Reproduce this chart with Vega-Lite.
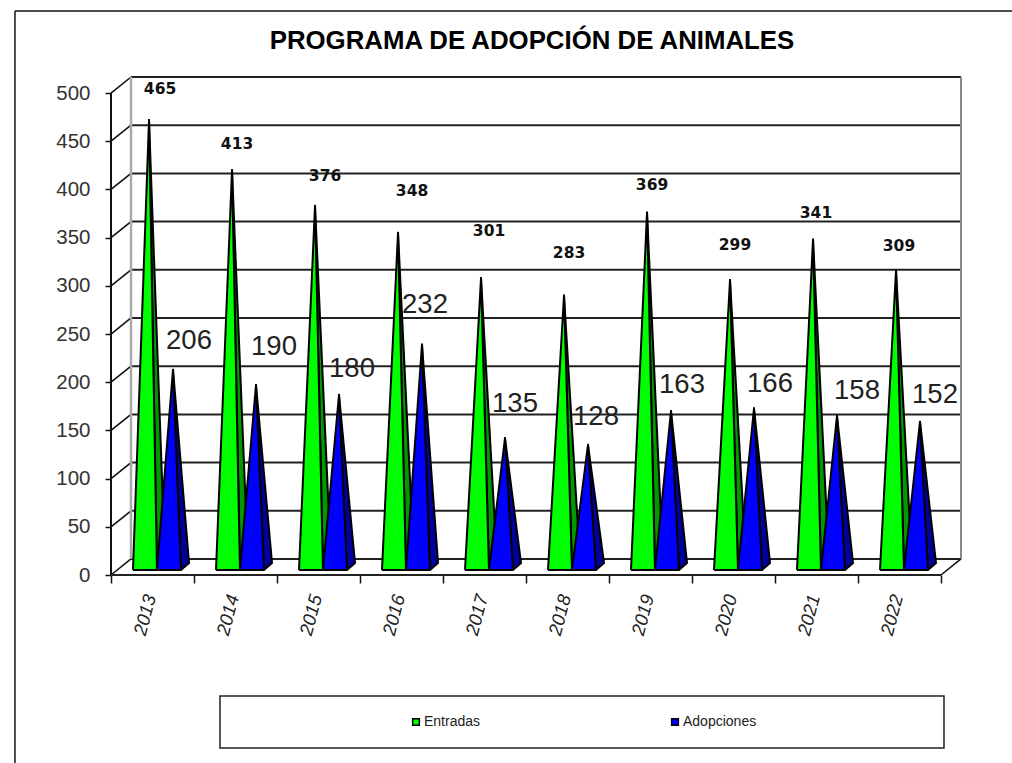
{
"$schema":"https://vega.github.io/schema/vega-lite/v6.json",
"width":850,"height":498,
"autosize":"none",
"padding":{"left":111,"top":77,"right":51,"bottom":188},
"background":"white",
"view":{"stroke":null},
"title":{"text":"PROGRAMA DE ADOPCIÓN DE ANIMALES","font":"Liberation Sans","fontSize":25.8,"fontWeight":"bold","color":"#000","anchor":"middle","dx":-4,"offset":-44},
"config":{"axis":{"grid":false}},
"resolve":{"axis":{"x":"independent","y":"independent"}},
"datasets":{
"bars":[
{"year":2013,"serie":"Entradas","value":465},{"year":2014,"serie":"Entradas","value":413},{"year":2015,"serie":"Entradas","value":376},{"year":2016,"serie":"Entradas","value":348},{"year":2017,"serie":"Entradas","value":301},{"year":2018,"serie":"Entradas","value":283},{"year":2019,"serie":"Entradas","value":369},{"year":2020,"serie":"Entradas","value":299},{"year":2021,"serie":"Entradas","value":341},{"year":2022,"serie":"Entradas","value":309},
{"year":2013,"serie":"Adopciones","value":206},{"year":2014,"serie":"Adopciones","value":190},{"year":2015,"serie":"Adopciones","value":180},{"year":2016,"serie":"Adopciones","value":232},{"year":2017,"serie":"Adopciones","value":135},{"year":2018,"serie":"Adopciones","value":128},{"year":2019,"serie":"Adopciones","value":163},{"year":2020,"serie":"Adopciones","value":166},{"year":2021,"serie":"Adopciones","value":158},{"year":2022,"serie":"Adopciones","value":152}
],
"ticks":[{"tick":0},{"tick":50},{"tick":100},{"tick":150},{"tick":200},{"tick":250},{"tick":300},{"tick":350},{"tick":400},{"tick":450},{"tick":500}],
"one":[{"id":1}]
},
"layer":[
{"data":{"name":"ticks"},"transform":[{"calculate":"datum.tick+16.6","as":"yb"}],
 "mark":{"type":"rule","stroke":"#222","strokeWidth":2},
 "encoding":{"x":{"datum":0.241,"type":"quantitative","scale":{"domain":[0,10.241],"nice":false,"zero":false},"axis":{"values":[0,1,2,3,4,5,6,7,8,9,10],"labels":false,"domain":false,"title":null,"tickColor":"#111","tickSize":8,"tickWidth":1.5}},"x2":{"datum":10.241},
 "y":{"field":"yb","type":"quantitative","scale":{"domain":[0,516.6],"nice":false,"zero":false},"axis":{"values":[0,50,100,150,200,250,300,350,400,450,500],"domain":false,"title":null,"tickColor":"#111","tickSize":6,"tickWidth":1.5,"labelFont":"Liberation Sans","labelFontSize":20.5,"labelColor":"#333","labelPadding":15,"labelFontWeight":"normal"}}}},
{"data":{"name":"ticks"},"transform":[{"calculate":"datum.tick+16.6","as":"yb"}],
 "mark":{"type":"rule","stroke":"#111","strokeWidth":1.6},
 "encoding":{"x":{"datum":0,"type":"quantitative","axis":null},"x2":{"datum":0.241},"y":{"field":"tick","type":"quantitative","axis":null},"y2":{"field":"yb"}}},
{"data":{"name":"one"},"mark":{"type":"rule","stroke":"#aaa","strokeWidth":2.5},
 "encoding":{"x":{"datum":0.241,"type":"quantitative","axis":null},"y":{"datum":16.6,"type":"quantitative","axis":null},"y2":{"datum":516.6}}},
{"data":{"name":"one"},"mark":{"type":"rule","stroke":"#888","strokeWidth":2},
 "encoding":{"x":{"datum":10.241,"type":"quantitative","axis":null},"y":{"datum":16.6,"type":"quantitative","axis":null},"y2":{"datum":516.6}}},
{"data":{"name":"one"},"mark":{"type":"rule","stroke":"#111","strokeWidth":2},
 "encoding":{"x":{"datum":0,"type":"quantitative","axis":null},"y":{"datum":0,"type":"quantitative","axis":null},"y2":{"datum":500}}},
{"data":{"name":"one"},"mark":{"type":"rule","stroke":"#222","strokeWidth":2},
 "encoding":{"x":{"datum":0,"type":"quantitative","axis":null},"x2":{"datum":10},"y":{"datum":0,"type":"quantitative","axis":null}}},
{"data":{"name":"one"},"mark":{"type":"rule","stroke":"#111","strokeWidth":1.6},
 "encoding":{"x":{"datum":10,"type":"quantitative","axis":null},"x2":{"datum":10.241},"y":{"datum":0,"type":"quantitative","axis":null},"y2":{"datum":16.6}}},
{"data":{"name":"one"},"mark":{"type":"rule","stroke":"#111","strokeWidth":1.5},
 "encoding":{"x":{"datum":-1.157,"type":"quantitative","axis":null},"x2":{"datum":10.855},"y":{"datum":585,"type":"quantitative","axis":null}}},
{"data":{"name":"one"},"mark":{"type":"rule","stroke":"#111","strokeWidth":1.5},
 "encoding":{"x":{"datum":-1.157,"type":"quantitative","axis":null},"y":{"datum":585,"type":"quantitative","axis":null},"y2":{"datum":-195}}},
{"data":{"name":"one"},"mark":{"type":"rect","fill":"white","stroke":"#222","strokeWidth":1.5},
 "encoding":{"x":{"datum":1.313,"type":"quantitative","axis":null},"x2":{"datum":10.036},"y":{"datum":-125.5,"type":"quantitative","axis":null},"y2":{"datum":-179.5}}},
{"data":{"name":"bars"},
"transform":[
{"calculate":"0","as":"f0"},{"calculate":"0.193","as":"f1"},{"calculate":"0.289","as":"f2"},{"calculate":"0.0","as":"f3"},
{"calculate":"0.289","as":"s0"},{"calculate":"0.193","as":"s1"},{"calculate":"0.386","as":"s2"},{"calculate":"0.289","as":"s3"},
{"fold":["f0","f1","f2","f3","s0","s1","s2","s3"],"as":["vertex","dxv"]},
{"calculate":"substring(datum.vertex,0,1)","as":"face"},
{"calculate":"datum.year-2013+(datum.serie==='Entradas'?0.265:0.554)+datum.dxv","as":"px"},
{"calculate":"datum.dxv===0.193?datum.value+7:(datum.dxv===0.386?12.4:5.2)","as":"py"}
],
"encoding":{
"x":{"field":"px","type":"quantitative","axis":null},
"y":{"field":"py","type":"quantitative","axis":null}
},
"layer":[
{"transform":[{"filter":"datum.serie==='Entradas'&&datum.face==='s'"}],"mark":{"type":"line","fill":"#009900","stroke":"#000","strokeWidth":2,"strokeJoin":"round"},
 "encoding":{"detail":{"field":"year"},"order":{"field":"vertex"}}},
{"transform":[{"filter":"datum.serie==='Entradas'&&datum.face==='f'"}],"mark":{"type":"line","fill":"#00ff00","stroke":"#000","strokeWidth":2,"strokeJoin":"round"},
 "encoding":{"detail":{"field":"year"},"order":{"field":"vertex"}}},
{"transform":[{"filter":"datum.serie==='Adopciones'&&datum.face==='s'"}],"mark":{"type":"line","fill":"#0000a0","stroke":"#000","strokeWidth":2,"strokeJoin":"round"},
 "encoding":{"detail":{"field":"year"},"order":{"field":"vertex"}}},
{"transform":[{"filter":"datum.serie==='Adopciones'&&datum.face==='f'"}],"mark":{"type":"line","fill":"#0000ff","stroke":"#000","strokeWidth":2,"strokeJoin":"round"},
 "encoding":{"detail":{"field":"year"},"order":{"field":"vertex"}}},
{"transform":[{"filter":"datum.vertex==='f1'&&datum.serie==='Entradas'"}],
 "mark":{"type":"text","font":"DejaVu Sans","fontWeight":"bold","fontSize":15.5,"color":"#111","align":"center","baseline":"middle",
 "dx":{"expr":"({2013:11,2014:5,2015:10,2016:14,2017:8,2018:5,2019:5,2020:5,2021:3,2022:3})[datum.year]"},
 "dy":{"expr":"({2013:-31,2014:-26,2015:-30,2016:-42,2017:-47,2018:-42,2019:-28,2020:-35,2021:-27,2022:-24})[datum.year]"}},
 "encoding":{"text":{"field":"value","type":"quantitative"}}},
{"transform":[{"filter":"datum.vertex==='f1'&&datum.serie==='Adopciones'"}],
 "mark":{"type":"text","font":"Liberation Sans","fontSize":27.5,"color":"#222","align":"center","baseline":"middle",
 "dx":{"expr":"({2013:16,2014:18,2015:13,2016:3,2017:10,2018:8,2019:11,2020:16,2021:20,2022:15})[datum.year]"},
 "dy":{"expr":"({2013:-29,2014:-38,2015:-26,2016:-40,2017:-34,2018:-28,2019:-26,2020:-24,2021:-25,2022:-27})[datum.year]"}},
 "encoding":{"text":{"field":"value","type":"quantitative"}}},
{"transform":[{"filter":"datum.vertex==='f1'&&datum.serie==='Entradas'"},{"calculate":"datum.year-2013+0.41","as":"lx"}],
 "mark":{"type":"text","font":"Liberation Sans","fontStyle":"italic","fontSize":18.5,"color":"#222","angle":285,"align":"center","baseline":"middle"},
 "encoding":{"x":{"field":"lx","type":"quantitative","axis":null},"y":{"datum":-41.5,"type":"quantitative","axis":null},"text":{"field":"year","type":"nominal"}}},
{"transform":[{"filter":"datum.vertex==='f1'"}],
 "mark":{"type":"point","filled":true,"shape":"square","opacity":0},
 "encoding":{"color":{"field":"serie","type":"nominal","scale":{"domain":["Entradas","Adopciones"],"range":["#00ff00","#0000ff"]},
 "legend":{"title":null,"orient":"none","legendX":298,"legendY":638,"direction":"horizontal","columns":2,"columnPadding":187,"symbolType":"square","symbolSize":45,"symbolOpacity":1,"symbolStrokeColor":"#000","symbolStrokeWidth":1.5,"labelFont":"Liberation Sans","labelFontSize":14,"labelColor":"#222","labelOffset":1}}}}
]}
]
}
